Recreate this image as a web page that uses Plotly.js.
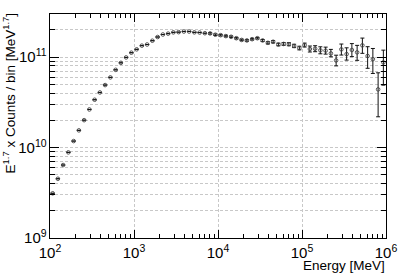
<!DOCTYPE html>
<html>
<head>
<meta charset="utf-8">
<script src="https://cdn.plot.ly/plotly-3.0.1.min.js"></script>
<style>html,body{margin:0;padding:0;background:#fff;}#chart{width:399px;height:274px;}</style>
</head>
<body>
<div id="chart"></div>
<script>
// Bin centres (MeV), 16 log bins per decade from 1e2 to 1e6
var energy = [
  107.5, 124.1, 143.3, 165.5, 191.1, 220.7, 254.8, 294.3, 339.8, 392.4, 453.2, 523.3, 604.3, 697.8, 805.8, 930.6,
  1074.6, 1240.9, 1433.0, 1654.8, 1911.0, 2206.7, 2548.3, 2942.7, 3398.2, 3924.2, 4531.6, 5233.0, 6043.0, 6978.3, 8058.4, 9305.7,
  10746, 12409, 14330, 16548, 19110, 22067, 25483, 29427, 33982, 39242, 45316, 52330, 60430, 69783, 80584, 93057,
  107460, 124090, 143300, 165480, 191100, 220670, 254830, 294270, 339820, 392420, 453160, 523300, 604300, 697830, 805840, 930570
];
// E^1.7 x Counts / bin
var counts = [
  3.12e9, 4.52e9, 6.41e9, 8.85e9, 1.18e10, 1.55e10, 2.01e10, 2.64e10, 3.38e10, 4.07e10,
  4.91e10, 5.97e10, 7.24e10, 8.65e10, 9.93e10, 1.12e11, 1.22e11, 1.34e11, 1.38e11, 1.52e11,
  1.67e11, 1.78e11, 1.82e11, 1.88e11, 1.89e11, 1.92e11, 1.92e11, 1.88e11, 1.87e11, 1.84e11,
  1.83e11, 1.77e11, 1.75e11, 1.71e11, 1.68e11, 1.62e11, 1.55e11, 1.53e11, 1.58e11, 1.62e11,
  1.53e11, 1.44e11, 1.48e11, 1.38e11, 1.40e11, 1.39e11, 1.33e11, 1.26e11, 1.36e11, 1.23e11,
  1.24e11, 1.19e11, 1.18e11, 1.10e11, 9.19e10, 1.22e11, 1.08e11, 1.20e11, 1.13e11, 1.35e11,
  1.03e11, 9.5e10, 4.40e10, 8.74e10
];
var errUp = [
  0, 0, 0, 0, 0, 0, 0, 0, 0, 0,
  0, 0, 0, 0, 0, 0, 0, 0, 0, 0,
  0, 0, 0, 0, 0, 0, 0, 0, 0, 0,
  3.6e9, 3.5e9, 3.5e9, 3.4e9, 3.4e9, 3.3e9, 3.1e9, 3.1e9, 3.2e9, 3.3e9,
  3.7e9, 4.2e9, 4.5e9, 4.6e9, 5.2e9, 5.6e9, 5.8e9, 6.0e9, 7.0e9, 9.7e9,
  9.8e9, 1.11e10, 1.10e10, 1.18e10, 1.32e10, 1.76e10, 1.88e10, 2.12e10, 2.20e10, 2.75e10,
  2.75e10, 2.97e10, 2.31e10, 3.21e10
];
var errDown = [
  0, 0, 0, 0, 0, 0, 0, 0, 0, 0,
  0, 0, 0, 0, 0, 0, 0, 0, 0, 0,
  0, 0, 0, 0, 0, 0, 0, 0, 0, 0,
  3.5e9, 3.4e9, 3.4e9, 3.3e9, 3.3e9, 3.2e9, 3.0e9, 3.0e9, 3.1e9, 3.2e9,
  3.6e9, 4.0e9, 4.3e9, 4.4e9, 4.9e9, 5.3e9, 5.5e9, 5.6e9, 6.6e9, 9.0e9,
  9.1e9, 1.01e10, 1.00e10, 9.1e9, 1.18e10, 1.65e10, 1.53e10, 1.86e10, 2.08e10, 2.48e10,
  2.77e10, 2.90e10, 2.21e10, 3.84e10
];
var xTitle = 'Energy [MeV]';
var yTitle = 'E<sup>1.7</sup> x Counts / bin [MeV<sup>1.7</sup>]';

var FONT = 'Liberation Sans, Arial, Helvetica, sans-serif';
var gridCol = '#c8c8c8';

var trace = {
  x: energy, y: counts, type: 'scatter', mode: 'markers',
  marker: {symbol: 'circle-open', size: 3.6, color: '#444', line: {width: 0.9, color: '#444'}},
  error_y: {type: 'data', symmetric: false, array: errUp, arrayminus: errDown,
            color: '#111', thickness: 1, width: 2},
  showlegend: false, hoverinfo: 'none'
};

function axisBase(showMinorGrid, majLen, minLen) {
  return {
    type: 'log', showline: true, linecolor: '#000', linewidth: 1, mirror: 'allticks',
    ticks: 'inside', ticklen: majLen, tickwidth: 1, tickcolor: '#000',
    showgrid: true, gridcolor: gridCol, gridwidth: 1, griddash: '3px,2px',
    dtick: 1, exponentformat: 'power', zeroline: false,
    tickfont: {family: FONT, size: 12, color: '#000'},
    minor: {ticks: 'inside', ticklen: minLen, tickwidth: 1, tickcolor: '#000', dtick: 'D1',
            showgrid: showMinorGrid, gridcolor: gridCol, gridwidth: 1, griddash: '3px,2px'}
  };
}

var xa = axisBase(false, 8, 4);
xa.range = [2, 6];
xa.ticklabelstandoff = 2;
var ya = axisBase(true, 9, 5);
ya.range = [9, Math.log10(3e11)];

var layout = {
  width: 399, height: 274,
  margin: {l: 50, r: 13, t: 14, b: 36},
  paper_bgcolor: '#fff', plot_bgcolor: '#fff',
  font: {family: FONT, color: '#000'},
  xaxis: xa, yaxis: ya,
  annotations: [
    {text: xTitle, xref: 'paper', yref: 'paper', x: 1, y: 0, xanchor: 'right', yanchor: 'top',
     xshift: 1, yshift: -18, showarrow: false, font: {family: FONT, size: 13.5, color: '#000'}},
    {text: yTitle, xref: 'paper', yref: 'paper', x: 0, y: 1, xanchor: 'right', yanchor: 'top',
     xshift: -30, yshift: 3, textangle: -90, showarrow: false, font: {family: FONT, size: 13.5, color: '#000'}}
  ]
};

Plotly.newPlot('chart', [trace], layout, {staticPlot: true, displayModeBar: false});
</script>
</body>
</html>
